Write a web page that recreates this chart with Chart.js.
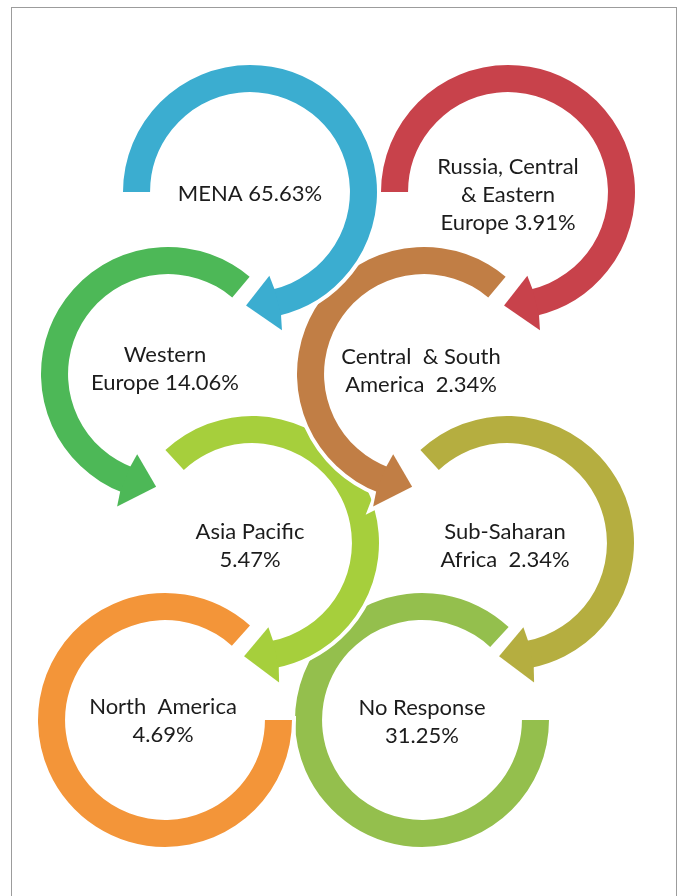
<!DOCTYPE html>
<html>
<head>
<meta charset="utf-8">
<title>Respondents by region</title>
<script src="https://cdn.jsdelivr.net/npm/chart.js@4.4.1/dist/chart.umd.min.js"></script>
<style>
  html, body { margin: 0; padding: 0; background: #fff; }
  body { width: 680px; height: 896px; position: relative; overflow: hidden; }
  #frame { position: absolute; left: 11px; top: 7px; width: 666px; height: 910px; border: 1.5px solid #9c9c9c; box-sizing: border-box; }
  canvas.ring { position: absolute; }
</style>
</head>
<body>
<div id="frame"></div>
<script>
const regions = ['MENA', 'Russia, Central & Eastern Europe', 'Western Europe', 'Central & South America',
  'Asia Pacific', 'Sub-Saharan Africa', 'North America', 'No Response'];
const shares = [65.63, 3.91, 14.06, 2.34, 5.47, 2.34, 4.69, 31.25];
// how each name is split over lines inside its ring, the share is added to the last line
const nameLines = [
  ['MENA'],
  ['Russia, Central', '& Eastern', 'Europe'],
  ['Western', 'Europe'],
  ['Central  & South', 'America '],
  ['Asia Pacific', ''],
  ['Sub-Saharan', 'Africa '],
  ['North  America', ''],
  ['No Response', '']
];
const colors = ['#3badd0', '#c8424b', '#4db857', '#c17e45', '#a6cf3c', '#b5ae40', '#f39539', '#94bf4d'];

// layout: ring centre, arc start (deg, 0 = 12 o'clock, clockwise), sweep, which end gets the arrow,
// label offset from the centre (first line)
const rings = [
  { cx: 250, cy: 192, rot: 270, sweep: 257, arrow: 'end',   dx: 0,  dy: 2 },
  { cx: 508, cy: 192, rot: 270, sweep: 257, arrow: 'end',   dx: 0,  dy: -25 },
  { cx: 168, cy: 374, rot: 201, sweep: 199, arrow: 'start', dx: -3, dy: -19 },
  { cx: 424, cy: 374, rot: 201, sweep: 199, arrow: 'start', dx: -3, dy: -17 },
  { cx: 252, cy: 543, rot: 317, sweep: 212, arrow: 'end',   dx: -2, dy: -11 },
  { cx: 507, cy: 543, rot: 317, sweep: 212, arrow: 'end',   dx: -2, dy: -11 },
  { cx: 165, cy: 720, rot: 90,  sweep: 312, arrow: null,    dx: -2, dy: -13 },
  { cx: 422, cy: 720, rot: 90,  sweep: 313, arrow: null,    dx: 0,  dy: -12 }
];

const SIZE = 320;
const R_OUT = 127;
const HEAD_IN = 14, HEAD_OUT = 15, HEAD_LEN = 15 * Math.PI / 180;
const LINE_H = 28;

function pt(a, r, ang) {
  return [a.x + r * Math.cos(ang), a.y + r * Math.sin(ang)];
}

// outline of the arc plus its arrow head, used for the white halo
function ringPath(ctx, a, arrow) {
  const mid = (a.innerRadius + a.outerRadius) / 2;
  ctx.beginPath();
  ctx.arc(a.x, a.y, a.outerRadius, a.startAngle, a.endAngle);
  if (arrow === 'end') {
    ctx.lineTo(...pt(a, a.outerRadius + HEAD_OUT, a.endAngle));
    ctx.lineTo(...pt(a, mid, a.endAngle + HEAD_LEN));
    ctx.lineTo(...pt(a, a.innerRadius - HEAD_IN, a.endAngle));
  }
  ctx.arc(a.x, a.y, a.innerRadius, a.endAngle, a.startAngle, true);
  if (arrow === 'start') {
    ctx.lineTo(...pt(a, a.innerRadius - HEAD_IN, a.startAngle));
    ctx.lineTo(...pt(a, mid, a.startAngle - HEAD_LEN));
    ctx.lineTo(...pt(a, a.outerRadius + HEAD_OUT, a.startAngle));
  }
  ctx.closePath();
}

function headPath(ctx, a, arrow) {
  const dir = arrow === 'end' ? 1 : -1;
  const base = arrow === 'end' ? a.endAngle : a.startAngle;
  const back = base - dir * 0.02;
  const mid = (a.innerRadius + a.outerRadius) / 2;
  ctx.beginPath();
  ctx.moveTo(...pt(a, a.innerRadius, back));
  ctx.lineTo(...pt(a, a.outerRadius, back));
  ctx.lineTo(...pt(a, a.outerRadius + HEAD_OUT, base));
  ctx.lineTo(...pt(a, mid, base + dir * HEAD_LEN));
  ctx.lineTo(...pt(a, a.innerRadius - HEAD_IN, base));
  ctx.closePath();
}

function makePlugin(i) {
  const ring = rings[i];
  return {
    id: 'ringArrow' + i,
    beforeDatasetsDraw(chart) {
      const a = chart.getDatasetMeta(0).data[0];
      const ctx = chart.ctx;
      ctx.save();
      ringPath(ctx, a, ring.arrow);
      ctx.lineWidth = 8;
      ctx.lineJoin = 'miter';
      ctx.strokeStyle = '#ffffff';
      ctx.stroke();
      ctx.restore();
    },
    afterDatasetsDraw(chart) {
      const a = chart.getDatasetMeta(0).data[0];
      const ctx = chart.ctx;
      ctx.save();
      if (ring.arrow) {
        headPath(ctx, a, ring.arrow);
        ctx.fillStyle = colors[i];
        ctx.fill();
      }
      const lines = nameLines[i].slice();
      const last = lines.length - 1;
      lines[last] = (lines[last] ? lines[last] + ' ' : '') + shares[i].toFixed(2) + '%';
      ctx.font = '22px Lato, "Open Sans", sans-serif';
      ctx.fillStyle = '#1c1c1c';
      ctx.textAlign = 'center';
      ctx.textBaseline = 'middle';
      lines.forEach((t, k) => ctx.fillText(t, a.x + ring.dx, a.y + ring.dy + k * LINE_H));
      ctx.restore();
    }
  };
}

rings.forEach((ring, i) => {
  const canvas = document.createElement('canvas');
  canvas.className = 'ring';
  canvas.width = SIZE;
  canvas.height = SIZE;
  canvas.style.left = (ring.cx - SIZE / 2) + 'px';
  canvas.style.top = (ring.cy - SIZE / 2) + 'px';
  canvas.style.zIndex = 20 - i;
  canvas.setAttribute('aria-label', regions[i] + ' ' + shares[i] + '%');
  document.body.appendChild(canvas);

  new Chart(canvas, {
    type: 'doughnut',
    data: {
      labels: [regions[i], ''],
      datasets: [{
        data: [ring.sweep, 360 - ring.sweep],
        backgroundColor: [colors[i], 'rgba(0,0,0,0)'],
        borderWidth: 0
      }]
    },
    options: {
      responsive: false,
      animation: false,
      events: [],
      rotation: ring.rot,
      circumference: 360,
      radius: R_OUT,
      cutout: '78.7%',
      plugins: { legend: { display: false }, tooltip: { enabled: false } }
    },
    plugins: [makePlugin(i)]
  });
});
</script>
</body>
</html>
